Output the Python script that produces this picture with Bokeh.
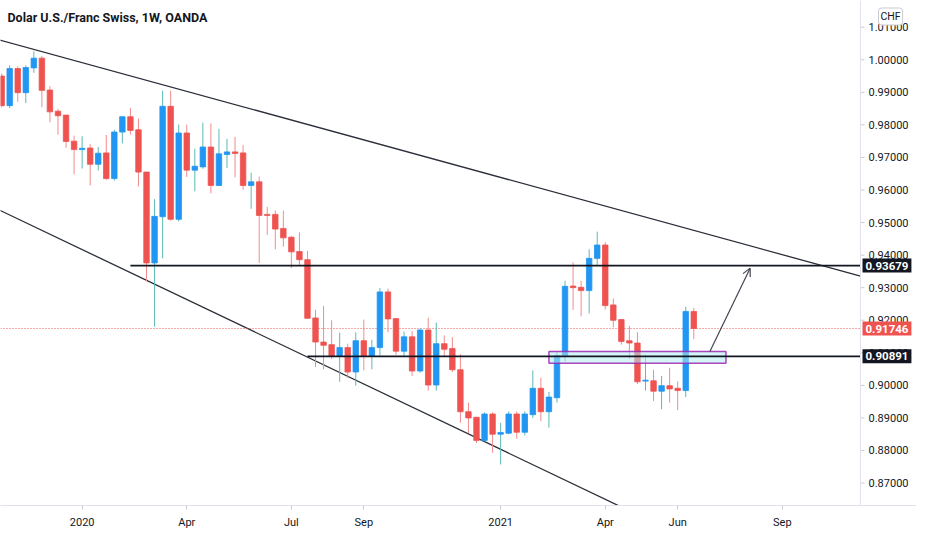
import numpy as np
import pandas as pd
from bokeh.plotting import figure
from bokeh.models import (Range1d, FixedTicker, PrintfTickFormatter, Label, Span,
                          Arrow, OpenHead)
from bokeh.embed import file_html
from bokeh.resources import INLINE

# ---------------- data (weekly USD/CHF, OANDA) ----------------
first_week = "2019-10-28"
opens = [0.9950, 0.9859, 0.9973, 0.9899, 0.9975, 1.0005, 0.9907, 0.9842, 0.9830, 0.9750,
         0.9724, 0.9729, 0.9679, 0.9714, 0.9635, 0.9778, 0.9825, 0.9785, 0.9655, 0.9376,
         0.9518, 0.9857, 0.9510, 0.9775, 0.9661, 0.9671, 0.9732, 0.9614, 0.9709, 0.9717,
         0.9714, 0.9614, 0.9625, 0.9525, 0.9525, 0.9482, 0.9455, 0.9411, 0.9386, 0.9207,
         0.9133, 0.9125, 0.9089, 0.9116, 0.9041, 0.9137, 0.9089, 0.9116, 0.9287, 0.9205,
         0.9105, 0.9149, 0.9044, 0.9170, 0.9001, 0.9128, 0.9113, 0.9048, 0.8919, 0.8902,
         0.8831, 0.8912, 0.8850, 0.8853, 0.8912, 0.8856, 0.8910, 0.8991, 0.8919, 0.8962,
         0.9091, 0.9305, 0.9301, 0.9291, 0.9390, 0.9431, 0.9247, 0.9202, 0.9137, 0.9130,
         0.9013, 0.9014, 0.8982, 0.8999, 0.8991, 0.8984, 0.9227]
highs = [0.9958, 0.9983, 0.9980, 0.9983, 1.0026, 1.0011, 0.9919, 0.9849, 0.9831, 0.9767,
         0.9765, 0.9741, 0.9732, 0.9769, 0.9785, 0.9826, 0.9852, 0.9819, 0.9656, 0.9572,
         0.9905, 0.9905, 0.9801, 0.9801, 0.9727, 0.9807, 0.9805, 0.9788, 0.9757, 0.9763,
         0.9738, 0.9653, 0.9641, 0.9548, 0.9537, 0.9537, 0.9459, 0.9470, 0.9413, 0.9232,
         0.9244, 0.9200, 0.9162, 0.9128, 0.9163, 0.9202, 0.9140, 0.9299, 0.9297, 0.9206,
         0.9165, 0.9167, 0.9175, 0.9208, 0.9193, 0.9153, 0.9148, 0.9096, 0.8947, 0.8903,
         0.8917, 0.8917, 0.8885, 0.8920, 0.8920, 0.8920, 0.9046, 0.9023, 0.8980, 0.9102,
         0.9321, 0.9378, 0.9321, 0.9418, 0.9472, 0.9440, 0.9267, 0.9203, 0.9183, 0.9163,
         0.9094, 0.9048, 0.9029, 0.9054, 0.9012, 0.9241, 0.9238]
lows = [0.9854, 0.9852, 0.9871, 0.9867, 0.9960, 0.9854, 0.9808, 0.9770, 0.9730, 0.9648,
        0.9666, 0.9614, 0.9660, 0.9631, 0.9629, 0.9743, 0.9770, 0.9611, 0.9319, 0.9180,
        0.9390, 0.9506, 0.9503, 0.9640, 0.9596, 0.9665, 0.9590, 0.9613, 0.9668, 0.9639,
        0.9601, 0.9542, 0.9376, 0.9462, 0.9418, 0.9426, 0.9360, 0.9370, 0.9205, 0.9056,
        0.9049, 0.9081, 0.9011, 0.9023, 0.8999, 0.9046, 0.9049, 0.9091, 0.9163, 0.9094,
        0.9089, 0.9029, 0.9039, 0.8984, 0.8984, 0.9089, 0.9041, 0.8885, 0.8853, 0.8823,
        0.8828, 0.8793, 0.8757, 0.8850, 0.8836, 0.8846, 0.8900, 0.8890, 0.8870, 0.8947,
        0.9073, 0.9232, 0.9212, 0.9221, 0.9370, 0.9233, 0.9178, 0.9125, 0.9081, 0.9004,
        0.8984, 0.8952, 0.8927, 0.8947, 0.8924, 0.8964, 0.9142]
closes = [0.9859, 0.9973, 0.9899, 0.9976, 1.0005, 0.9906, 0.9840, 0.9828, 0.9749, 0.9724,
          0.9728, 0.9679, 0.9713, 0.9635, 0.9778, 0.9825, 0.9783, 0.9655, 0.9376, 0.9519,
          0.9857, 0.9510, 0.9775, 0.9661, 0.9673, 0.9732, 0.9614, 0.9711, 0.9717, 0.9712,
          0.9614, 0.9625, 0.9522, 0.9522, 0.9480, 0.9453, 0.9410, 0.9386, 0.9206, 0.9133,
          0.9123, 0.9089, 0.9116, 0.9041, 0.9137, 0.9089, 0.9116, 0.9287, 0.9204, 0.9105,
          0.9149, 0.9044, 0.9170, 0.9001, 0.9128, 0.9111, 0.9048, 0.8919, 0.8900, 0.8831,
          0.8912, 0.8850, 0.8855, 0.8912, 0.8856, 0.8912, 0.8991, 0.8919, 0.8964, 0.9091,
          0.9304, 0.9300, 0.9291, 0.9390, 0.9431, 0.9245, 0.9200, 0.9135, 0.9130, 0.9011,
          0.9016, 0.8982, 0.8999, 0.8989, 0.8984, 0.9227, 0.91746]

last_price = 0.91746
level_high = 0.93679
level_low = 0.90891
level_high_start = "2020-02-17"
level_low_start = "2020-07-20"

upper_trend = [("2019-10-28", 1.0059), ("2021-09-27", 0.9381)]
lower_trend = [("2019-10-28", 0.9535), ("2021-03-01", 0.8709)]

zone_left, zone_right = "2021-02-15", "2021-07-19"
zone_top, zone_bottom = 0.9104, 0.9068
arrow_start = ("2021-07-05", 0.9104)
arrow_end = ("2021-08-09", 0.9360)

y_ticks = [0.87, 0.88, 0.89, 0.90, 0.91, 0.92, 0.93, 0.94, 0.95, 0.96, 0.97, 0.98, 0.99, 1.00, 1.01]
x_tick_dates = ["2020-01-06", "2020-04-06", "2020-07-06", "2020-09-07",
                "2021-01-04", "2021-04-05", "2021-06-07", "2021-09-06"]
x_tick_labels = ["2020", "Apr", "Jul", "Sep", "2021", "Apr", "Jun", "Sep"]

x_start, x_edge = "2019-10-27", "2021-11-13"   # visible chart span (price scale sits right of x_edge)
y_start, y_end = 0.8631, 1.0182

title_text = "Dolar U.S./Franc Swiss, 1W, OANDA"
currency = "CHF"

# ---------------- layout constants ----------------
W, H = 916, 534
SCALE_W = 56          # width of the price-scale strip
BOTTOM = 29

def ms(d):
    return pd.Timestamp(d).value // 10**6

dates = pd.date_range(first_week, periods=len(opens), freq="7D")
o = np.array(opens); c = np.array(closes); h = np.array(highs); l = np.array(lows)
up = c >= o
UP, DN = "#2196F3", "#EF5350"
UPW, DNW = "#5DB9B3", "#F28C8C"
week_ms = 7 * 24 * 3600 * 1000

x0, xe = ms(x_start), ms(x_edge)
x_full_end = x0 + (xe - x0) * W / (W - SCALE_W)

p = figure(width=W, height=H, x_axis_type="datetime", y_axis_location="right",
           x_range=Range1d(x0, x_full_end), y_range=Range1d(y_start, y_end),
           output_backend="svg", toolbar_location=None,
           min_border_left=0, min_border_top=0, min_border_right=0, min_border_bottom=BOTTOM)
p.grid.visible = False
p.outline_line_color = None
p.background_fill_color = "white"
p.border_fill_color = "white"

for ax in (p.xaxis[0], p.yaxis[0]):
    ax.minor_tick_line_color = None
    ax.major_label_text_font = "Roboto"
    ax.major_label_text_font_size = "11px"
    ax.major_label_text_color = "#131722"

# price scale: labels drawn into the strip right of x_edge
ya = p.yaxis[0]
ya.ticker = FixedTicker(ticks=y_ticks)
ya.formatter = PrintfTickFormatter(format="%.5f")
ya.axis_line_color = None
ya.major_tick_line_color = None
ya.major_tick_out = 0
ya.major_tick_in = 0
ya.major_label_standoff = -(SCALE_W - 8)

xa = p.xaxis[0]
xa.axis_line_color = "#E0E3EB"
xa.major_tick_line_color = "#C8CBD3"
xa.major_tick_out = 4
xa.major_tick_in = 0
xt = [float(ms(d)) for d in x_tick_dates]
xa.ticker = FixedTicker(ticks=xt)
xa.major_label_overrides = {k: v for k, v in zip(xt, x_tick_labels)}
xa.major_label_standoff = 6

# separator between chart and price scale
p.add_layout(Span(location=xe, dimension="height", line_color="#E0E3EB", line_width=1))

# small tick marks of the price scale
p.segment(x0=[xe] * len(y_ticks), y0=y_ticks, x1=[xe + (xe - x0) * 4 / (W - SCALE_W)] * len(y_ticks),
          y1=y_ticks, line_color="#C8CBD3", line_width=1)

# trend lines (extended to the chart edge)
def extend(anchor, pad=20 * week_ms):
    (da, pa), (db, pb) = anchor
    ta, tb = ms(da), ms(db)
    k = (pb - pa) / (tb - ta)
    xs = [x0 - pad, xe]
    return xs, [pa + k * (v - ta) for v in xs]

for tr in (upper_trend, lower_trend):
    xs, ys = extend(tr)
    p.line(xs, ys, line_color="#2A2E39", line_width=1.3)

# last price dotted line
p.line([x0, xe], [last_price, last_price], line_color="#EF5350", line_width=1, line_dash="1 2")

# candles
p.segment(x0=dates[up], y0=l[up], x1=dates[up], y1=h[up], line_color=UPW, line_width=1)
p.segment(x0=dates[~up], y0=l[~up], x1=dates[~up], y1=h[~up], line_color=DNW, line_width=1)
bw = 0.68 * week_ms
p.vbar(x=dates[up], width=bw, top=c[up], bottom=o[up], fill_color=UP, line_color=UP, line_width=0.8)
p.vbar(x=dates[~up], width=bw, top=o[~up], bottom=c[~up], fill_color=DN, line_color=DN, line_width=0.8)

# horizontal levels
p.line([ms(level_high_start), xe], [level_high, level_high], line_color="#131722", line_width=1.8)

# zone box
p.quad(left=[ms(zone_left)], right=[ms(zone_right)],
       top=[zone_top], bottom=[zone_bottom], fill_color="#B2EBF2", fill_alpha=0.55,
       line_color="#9C27B0", line_width=1.5, line_alpha=0.85)
p.line([ms(level_low_start), xe], [level_low, level_low], line_color="#131722", line_width=1.8)

# arrow
p.add_layout(Arrow(end=OpenHead(size=8, line_color="#434651", line_width=1.2),
                   x_start=ms(arrow_start[0]), y_start=arrow_start[1],
                   x_end=ms(arrow_end[0]), y_end=arrow_end[1],
                   line_color="#434651", line_width=1.2))

# title
p.add_layout(Label(x=x0, y=y_end, x_offset=7, y_offset=-17, text=title_text,
                   text_font="Roboto", text_font_size="12.5px", text_font_style="bold",
                   text_color="#131722", text_baseline="middle", text_align="left"))

# price labels on the scale
for val, bg in ((level_high, "#131722"), (last_price, "#EF5350"), (level_low, "#131722")):
    p.add_layout(Label(x=xe, y=val, x_offset=2, text="%.5f" % val, text_font="Roboto",
                       text_font_size="11.5px", text_font_style="bold", text_color="white",
                       background_fill_color=bg, text_baseline="middle", text_align="left",
                       padding=3))

p.add_layout(Label(x=xe, y=y_end, x_offset=18, y_offset=-16, text=currency, text_font="Roboto",
                   text_font_size="10.5px", text_color="#131722", background_fill_color="white",
                   border_line_color="#C8CBD3", text_baseline="middle", text_align="left",
                   padding=2, border_radius=3))

open("out.html", "w").write(file_html(p, INLINE))
